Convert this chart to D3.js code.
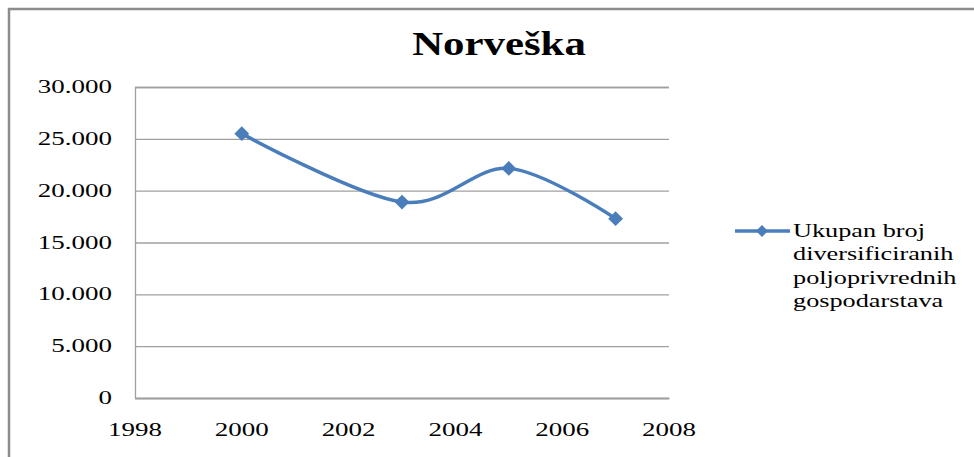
<!DOCTYPE html>
<html>
<head>
<meta charset="utf-8">
<script src="https://cdn.jsdelivr.net/npm/d3@7/dist/d3.min.js"></script>
<style>
  html, body { margin: 0; padding: 0; background: #fff; }
  svg { display: block; }
</style>
</head>
<body>
<svg id="chart" width="974" height="457"></svg>
<script>
// Broj diversificiranih poljoprivrednih gospodarstava u Norveškoj
const chartTitle = "Norveška";
const seriesName = ["Ukupan broj", "diversificiranih", "poljoprivrednih", "gospodarstava"];
const years = [2000, 2003, 2005, 2007];
const farms = [25500, 18900, 22150, 17300];
const yTicks = [0, 5000, 10000, 15000, 20000, 25000, 30000];
const xTicks = [1998, 2000, 2002, 2004, 2006, 2008];

const svg = d3.select("#chart");
const W = 974, H = 457;
const plot = { left: 135, top: 87, right: 669, bottom: 398 };
const stretch = 1.42;          // wide text, as in the original export
const lineColor = "#4A7EBB";
const serif = "'Liberation Serif', 'Times New Roman', Times, serif";

const fmt = d3.formatLocale({ decimal: ",", thousands: ".", grouping: [3], currency: ["", ""] }).format(",");

const x = d3.scaleLinear().domain([1998, 2008]).range([plot.left, plot.right]);
const y = d3.scaleLinear().domain([0, 30000]).range([plot.bottom, plot.top]);

// outer chart frame (runs past the right and bottom edges)
svg.append("rect")
  .attr("x", 9).attr("y", 9).attr("width", W + 20).attr("height", H + 20)
  .attr("fill", "#fff").attr("stroke", "#8c8c8c").attr("stroke-width", 2.5);

// helper: horizontally stretched text
function stretchedText(g, tx, ty, str, size, anchor, weight, sx) {
  return g.append("text")
    .attr("transform", `translate(${tx},${ty}) scale(${sx || stretch},1)`)
    .attr("text-anchor", anchor)
    .attr("font-family", serif)
    .attr("font-size", size)
    .attr("font-weight", weight || "normal")
    .attr("fill", "#000")
    .text(str);
}

// title
stretchedText(svg, 499, 55, chartTitle, 34, "middle", "bold", 1.26);

// horizontal gridlines
const yAxis = d3.axisLeft(y).tickValues(yTicks).tickSize(-(plot.right - plot.left)).tickFormat("");
svg.append("g")
  .attr("transform", `translate(${plot.left},0)`)
  .call(yAxis)
  .call(g => g.select(".domain").attr("stroke", "#a0a0a0").attr("stroke-width", 1.3))
  .call(g => g.selectAll(".tick line").attr("stroke", "#a0a0a0").attr("stroke-width", 1.3));

// y tick labels
const yLab = svg.append("g");
yTicks.forEach(v => stretchedText(yLab, 112, y(v) + 6, fmt(v), 19, "end"));

// x axis baseline and labels
const xAxis = d3.axisBottom(x).tickValues(xTicks).tickSize(0).tickFormat("");
svg.append("g")
  .attr("transform", `translate(0,${plot.bottom})`)
  .call(xAxis)
  .call(g => g.select(".domain").attr("stroke", "#a0a0a0").attr("stroke-width", 1.3));
const xLab = svg.append("g");
xTicks.forEach(v => stretchedText(xLab, x(v), 436, String(v), 19, "middle"));

// smoothed series line
const data = years.map((yr, i) => ({ yr, v: farms[i] }));
const line = d3.line().x(d => x(d.yr)).y(d => y(d.v)).curve(d3.curveCatmullRom.alpha(0));
svg.append("path")
  .datum(data)
  .attr("d", line)
  .attr("fill", "none")
  .attr("stroke", lineColor)
  .attr("stroke-width", 3.5)
  .attr("stroke-linecap", "round");

// diamond markers
const marker = d3.symbol().type(d3.symbolSquare).size(110);
svg.append("g").selectAll("path")
  .data(data)
  .join("path")
  .attr("d", marker)
  .attr("transform", d => `translate(${x(d.yr)},${y(d.v)}) rotate(45)`)
  .attr("fill", lineColor);

// legend
const lg = svg.append("g");
lg.append("line")
  .attr("x1", 735).attr("x2", 790).attr("y1", 231).attr("y2", 231)
  .attr("stroke", lineColor).attr("stroke-width", 3.5);
lg.append("path")
  .attr("d", d3.symbol().type(d3.symbolSquare).size(70))
  .attr("transform", "translate(762,231) rotate(45)")
  .attr("fill", lineColor);
seriesName.forEach((s, i) => stretchedText(lg, 793, 237 + i * 23.3, s, 18.5, "start"));
</script>
</body>
</html>
